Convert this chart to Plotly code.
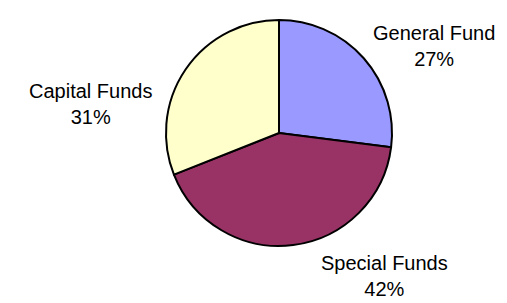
import plotly.graph_objects as go

categories = ["General Fund", "Special Funds", "Capital Funds"]
values = [27, 42, 31]
colors = ["#9999FF", "#993366", "#FFFFCC"]

W, H = 507, 303
cx, cy, r = 271, 125, 113

# label centre positions in pixels (x, y from top) for each category
label_pos = {
    "General Fund": (426, 38),
    "Special Funds": (376, 268),
    "Capital Funds": (82, 96),
}

fig = go.Figure(go.Pie(
    labels=categories,
    values=values,
    sort=False,
    direction="clockwise",
    rotation=0,
    marker=dict(colors=colors, line=dict(color="black", width=2)),
    textinfo="none",
    hoverinfo="label+percent",
    domain=dict(x=[(cx - r) / W, (cx + r) / W],
                y=[(H - cy - r) / H, (H - cy + r) / H]),
    showlegend=False,
))

total = sum(values)
for cat, v in zip(categories, values):
    px, py = label_pos[cat]
    fig.add_annotation(
        x=px / W, y=1 - py / H, xref="paper", yref="paper",
        xanchor="center", yanchor="middle",
        text=f"{cat}<br>{round(100 * v / total)}%",
        showarrow=False, align="center",
        font=dict(family="Liberation Sans, Arial, sans-serif", size=20, color="black"),
    )

fig.update_layout(
    width=W, height=H,
    margin=dict(l=0, r=0, t=0, b=0),
    paper_bgcolor="white",
    plot_bgcolor="white",
)

fig.write_html("out.html")
